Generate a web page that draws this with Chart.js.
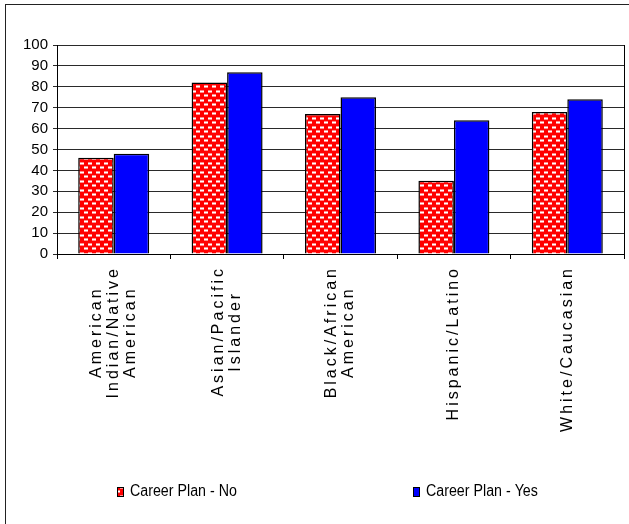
<!DOCTYPE html>
<html>
<head>
<meta charset="utf-8">
<script src="https://cdn.jsdelivr.net/npm/chart.js@4.4.1/dist/chart.umd.min.js"></script>
<style>
  html, body { margin: 0; padding: 0; background: #fff; overflow: hidden; }
  #wrap { width: 629px; height: 524px; }
</style>
</head>
<body>
<div id="wrap"><canvas id="chart" width="629" height="524"></canvas></div>
<script>
// Survey groups (multi-line category labels)
const categories = [
  ['American', 'Indian/Native', 'American'],
  ['Asian/Pacific', 'Islander'],
  ['Black/African', 'American'],
  ['Hispanic/Latino'],
  ['White/Caucasian']
];
const seriesNames = ['Career Plan - No', 'Career Plan - Yes'];
const careerPlanNo = [46, 82, 67, 35, 68];
const careerPlanYes = [48, 87, 75, 64, 74];
const yTickValues = [0, 10, 20, 30, 40, 50, 60, 70, 80, 90, 100];

const REGULAR = '"Liberation Sans", Arial, sans-serif';

// Red fill with small white dashes on staggered rows
function dashedRed() {
  const c = document.createElement('canvas');
  c.width = 8; c.height = 9;
  const g = c.getContext('2d');
  g.fillStyle = '#ff0000';
  g.fillRect(0, 0, 8, 9);
  g.fillStyle = '#ff8c8c';
  g.fillRect(0, 0, 4, 1);
  g.fillRect(0, 2, 4, 1);
  g.fillRect(4, 4, 4, 1);
  g.fillRect(4, 6, 4, 1);
  g.fillStyle = '#ffffff';
  g.fillRect(0, 1, 4, 1);
  g.fillRect(4, 5, 4, 1);
  return g.createPattern(c, 'repeat');
}
const redFill = dashedRed();

// Outer frame of the chart
const framePlugin = {
  id: 'frame',
  beforeDraw(chart) {
    const ctx = chart.ctx;
    ctx.save();
    ctx.fillStyle = '#fff';
    ctx.fillRect(0, 0, chart.width, chart.height);
    ctx.strokeStyle = '#222';
    ctx.lineWidth = 1;
    ctx.strokeRect(5.5, 4.5, chart.width + 20, chart.height + 20);
    ctx.restore();
  }
};

// Rotated, letter-spaced category labels, lines centred on each category
const xLabelPlugin = {
  id: 'xLabels',
  afterDraw(chart) {
    const sc = chart.scales.x;
    const ctx = chart.ctx;
    const size = 16, lh = 17, spacing = 3;
    const top = chart.chartArea.bottom + 15;
    ctx.save();
    ctx.font = size + 'px ' + REGULAR;
    ctx.letterSpacing = spacing + 'px';
    ctx.fillStyle = '#000';
    ctx.textAlign = 'center';
    ctx.textBaseline = 'middle';
    sc.ticks.forEach((t, i) => {
      const lines = [].concat(chart.data.labels[i]);
      const widths = lines.map(s => ctx.measureText(s).width - spacing);
      const block = Math.max(...widths);
      const cx = sc.getPixelForTick(i);
      lines.forEach((s, j) => {
        const x = cx + (j - (lines.length - 1) / 2) * lh;
        ctx.save();
        ctx.translate(x, top + block / 2);
        ctx.rotate(-Math.PI / 2);
        ctx.fillText(s, spacing / 2, 0);
        ctx.restore();
      });
    });
    ctx.restore();
  }
};

// Legend drawn as two evenly spread columns below the axis labels
const legendPlugin = {
  id: 'bottomLegend',
  afterDraw(chart) {
    const ctx = chart.ctx;
    const centre = 326, col = 299, y = 492, squeeze = 0.89;
    ctx.save();
    ctx.font = '16px ' + REGULAR;
    ctx.textBaseline = 'middle';
    chart.data.datasets.forEach((ds, i) => {
      const tw = ctx.measureText(ds.label).width * squeeze;
      const w = 7 + 6 + tw;
      const x0 = Math.round(centre + (i - 0.5) * col - w / 2);
      ctx.fillStyle = ds.backgroundColor;
      ctx.fillRect(x0, y - 5, 7, 10);
      ctx.strokeStyle = '#000';
      ctx.lineWidth = 1;
      ctx.strokeRect(x0 + 0.5, y - 4.5, 6, 9);
      ctx.fillStyle = '#000';
      ctx.save();
      ctx.translate(x0 + 13, y);
      ctx.scale(squeeze, 1);
      ctx.fillText(ds.label, 0, 0);
      ctx.restore();
    });
    ctx.restore();
  }
};

new Chart(document.getElementById('chart'), {
  type: 'bar',
  data: {
    labels: categories,
    datasets: [
      { label: seriesNames[0], data: careerPlanNo, backgroundColor: redFill, borderColor: '#000', borderWidth: 1.5 },
      { label: seriesNames[1], data: careerPlanYes, backgroundColor: '#0000ff', borderColor: '#000', borderWidth: 1.5 }
    ]
  },
  options: {
    responsive: false,
    animation: false,
    devicePixelRatio: 1,
    layout: { padding: { left: 0, top: 45, right: 5, bottom: 260 } },
    datasets: { bar: { categoryPercentage: 0.626, barPercentage: 1 } },
    plugins: { legend: { display: false }, tooltip: { enabled: false } },
    scales: {
      x: {
        afterFit(s) { s.height = 10; },
        grid: { offset: true, drawOnChartArea: false, drawTicks: true, tickLength: 5, color: '#000' },
        border: { color: '#000', width: 1 },
        ticks: { display: false }
      },
      y: {
        min: 0, max: 100,
        afterFit(s) { s.width = 57; },
        afterBuildTicks(s) { s.ticks = yTickValues.map(v => ({ value: v })); },
        grid: { color: '#2a2a2a', tickLength: 4 },
        border: { color: '#000', width: 1 },
        ticks: { color: '#000', padding: 5, autoSkip: false, font: { family: REGULAR, size: 15 } }
      },
      // plain right-hand edge of the plot area
      yRight: {
        position: 'right',
        min: 0, max: 100,
        afterFit(s) { s.width = 0; },
        grid: { drawOnChartArea: false, drawTicks: false },
        border: { color: '#000', width: 1 },
        ticks: { display: false }
      }
    }
  },
  plugins: [framePlugin, xLabelPlugin, legendPlugin]
});
</script>
</body>
</html>
